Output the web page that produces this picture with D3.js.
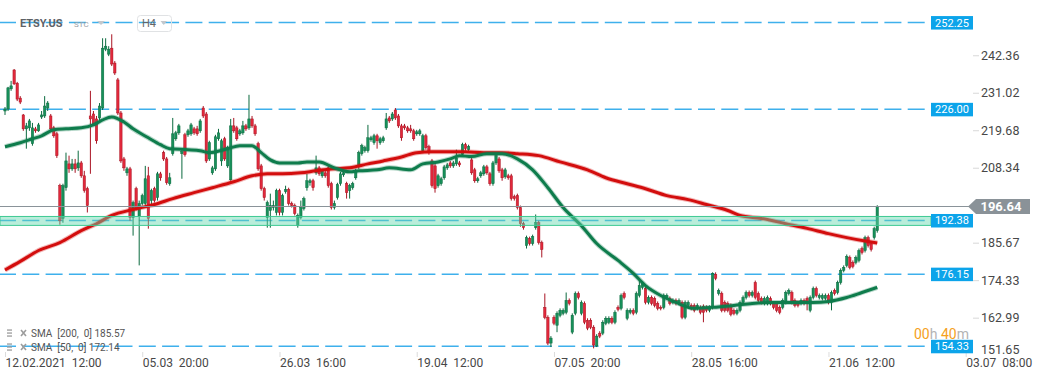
<!DOCTYPE html>
<html>
<head>
<meta charset="utf-8">
<script src="https://cdn.jsdelivr.net/npm/d3@7"></script>
<style>
  body { margin: 0; background: #fff; overflow: hidden; }
  svg { display: block; font-family: Roboto, "Noto Sans", sans-serif; }
</style>
</head>
<body>
<div id="chart"></div>
<script>
// H4 candles, [open, high, low, close]
const ohlc = [
  [225.5,226.7,224.3,226.1],[226.1,232.8,225.5,232.5],[232.2,234.6,231.6,233.1],[237.9,238.2,233.4,233.7],
  [233.9,234.3,228.5,229.1],[229.4,230.0,227.6,228.2],[224.3,224.6,219.5,220.1],[220.1,221.9,214.1,221.0],
  [220.4,223.1,219.5,222.5],[215.6,221.9,215.0,220.4],[220.1,220.7,218.9,219.5],[219.5,221.9,219.2,221.3],
  [223.7,225.5,223.1,224.3],[224.0,230.0,223.4,227.0],[226.4,228.5,225.5,227.9],[224.0,224.6,219.5,220.1],
  [220.4,221.0,217.4,218.0],[218.6,219.2,211.3,212.0],[202.9,203.5,191.1,192.3],[193.0,203.5,191.7,202.9],
  [202.3,212.9,201.4,210.4],[209.5,212.0,206.8,208.0],[208.0,211.0,207.4,209.5],[209.5,211.0,206.8,208.0],
  [208.3,213.5,207.4,209.8],[209.8,210.4,205.3,205.9],[205.9,207.4,200.8,201.4],[202.0,202.6,194.8,196.9],
  [224.0,231.6,206.5,223.1],[224.6,225.5,221.0,221.6],[223.1,224.0,215.6,216.5],[223.4,227.9,222.5,227.0],
  [226.4,247.5,225.8,244.5],[244.2,247.5,243.6,245.1],[242.7,245.1,242.1,244.2],[244.5,248.7,239.1,239.7],
  [240.0,240.6,236.4,237.0],[234.9,235.5,224.3,224.9],[224.9,225.5,209.8,210.4],[211.0,211.6,207.4,208.3],
  [206.8,208.6,205.9,208.0],[208.0,208.6,192.3,193.3],[193.3,198.4,187.8,197.8],[202.0,202.6,195.4,196.0],
  [193.6,198.4,178.8,197.5],[197.5,200.5,196.9,199.9],[197.5,208.9,196.9,205.0],[205.9,208.6,189.9,193.0],
  [198.4,202.0,197.2,201.4],[202.0,202.6,197.8,198.4],[199.3,207.1,198.4,206.5],[206.5,207.1,204.4,205.3],
  [212.9,213.5,210.4,211.0],[211.0,211.6,203.2,203.8],[203.5,206.8,202.9,205.3],[212.6,223.4,212.0,218.6],
  [217.1,219.5,216.5,218.9],[218.9,221.6,218.3,221.0],[212.6,214.1,205.0,213.2],[218.3,218.9,211.7,212.3],
  [218.3,220.1,217.7,219.5],[218.6,221.9,218.0,221.3],[220.1,220.7,218.3,218.9],[220.1,221.0,218.0,218.6],
  [219.5,223.1,218.9,222.5],[226.4,227.0,223.4,224.0],[224.6,225.2,209.8,210.4],[211.0,216.5,210.4,215.9],
  [206.8,208.9,206.2,208.3],[208.0,218.3,207.4,217.7],[217.1,220.1,216.5,218.9],[210.4,217.1,208.9,216.5],
  [217.1,217.7,210.4,211.0],[208.9,215.0,208.3,214.4],[204.7,223.1,204.4,221.0],[221.0,223.4,218.9,219.5],
  [220.4,221.0,216.5,217.1],[218.6,220.1,218.0,219.5],[218.9,222.5,218.3,221.0],[221.0,221.6,219.5,220.1],
  [220.4,230.4,219.8,223.1],[223.1,224.0,220.4,221.0],[221.0,221.6,218.0,218.6],[215.6,216.2,207.4,208.0],
  [208.9,209.5,201.4,202.0],[202.0,202.6,198.4,199.3],[193.3,198.4,190.2,197.8],[195.4,200.5,190.2,196.9],
  [196.3,198.4,195.4,196.9],[194.8,202.0,193.9,201.4],[201.4,202.0,193.9,194.8],[194.8,200.5,193.9,199.9],
  [201.1,202.9,200.5,201.7],[201.7,202.3,196.9,197.5],[197.5,198.1,196.3,196.9],[196.9,197.5,193.9,194.5],
  [190.9,194.5,190.2,193.9],[193.3,198.4,192.7,196.3],[196.0,199.6,195.4,199.0],[202.3,206.5,201.4,204.4],
  [203.8,205.0,202.9,204.4],[204.4,205.0,201.4,202.3],[206.8,212.0,206.2,208.3],[208.3,208.9,205.9,206.5],
  [205.9,208.0,205.3,207.4],[206.8,207.4,205.3,205.9],[208.3,208.9,202.3,202.9],[203.5,204.1,195.7,196.3],
  [196.3,198.4,195.7,197.5],[199.3,203.8,198.7,203.2],[203.5,207.1,202.9,206.5],[206.2,207.4,205.6,206.8],
  [203.5,204.1,199.0,200.8],[201.4,203.5,199.0,202.9],[202.3,204.1,201.7,203.5],[205.3,208.0,204.7,207.4],
  [208.9,213.5,208.0,212.9],[212.6,215.6,212.0,215.0],[213.5,215.0,212.9,214.4],[213.5,221.3,212.9,217.4],
  [216.8,218.0,216.2,217.4],[215.9,218.6,215.3,218.0],[218.0,218.6,214.1,216.5],[215.9,217.7,215.3,217.1],
  [216.5,218.0,215.9,217.4],[220.4,224.9,219.8,223.1],[223.4,224.0,221.9,222.5],[223.1,225.2,222.5,224.6],
  [225.8,226.4,222.8,223.4],[224.0,224.6,220.4,221.0],[221.0,221.6,216.5,217.4],[221.0,221.6,219.8,220.4],
  [220.4,221.0,218.9,219.5],[220.1,221.3,218.9,219.5],[219.5,220.1,216.5,217.1],[218.6,219.8,218.0,219.2],
  [218.6,220.1,218.0,219.5],[213.5,218.6,212.9,218.0],[218.0,218.6,213.8,214.4],[214.7,215.3,212.3,212.9],
  [210.4,211.0,202.3,202.9],[208.9,209.5,200.8,202.0],[202.9,206.5,202.3,205.9],[203.5,205.6,202.9,205.0],
  [205.3,209.2,204.7,208.6],[208.3,209.8,207.7,209.2],[209.8,210.4,208.3,208.9],[208.9,210.4,208.3,209.8],
  [209.5,213.8,208.9,211.3],[209.8,210.4,208.6,209.2],[212.3,215.9,211.7,215.3],[215.3,215.9,213.5,214.1],
  [213.8,215.3,213.2,214.7],[210.7,211.3,206.2,206.8],[207.7,208.3,203.8,204.4],[204.4,205.6,203.8,205.0],
  [205.9,207.4,205.3,206.8],[206.5,209.2,205.9,208.6],[208.6,209.2,206.2,206.8],[206.5,207.1,202.9,203.5],
  [203.5,210.4,202.9,209.8],[209.8,212.6,209.2,212.0],[211.0,211.6,206.8,207.4],[207.7,208.3,204.4,205.3],
  [205.6,208.3,205.0,207.7],[205.9,206.5,204.7,205.3],[205.9,206.5,198.4,199.0],[199.6,200.2,198.4,199.0],
  [199.9,200.5,195.7,196.3],[196.3,196.9,190.5,191.4],[191.4,192.0,189.6,190.2],[184.8,187.8,183.9,187.2],
  [186.9,187.5,184.8,185.4],[185.4,188.1,184.8,187.5],[190.2,194.2,189.6,191.7],[191.7,192.3,185.1,185.7],
  [185.7,186.3,181.2,183.6],[166.1,170.3,162.5,163.1],[163.1,163.7,154.7,155.3],[155.3,157.4,154.1,156.8],
  [163.1,163.7,160.7,161.3],[160.7,164.9,158.6,164.3],[163.7,165.8,163.1,165.2],[164.3,165.8,163.7,165.2],
  [164.6,170.6,164.0,168.2],[168.2,168.8,166.7,167.3],[158.6,164.3,158.0,163.7],[164.3,170.9,163.7,170.3],
  [170.3,170.9,168.5,169.1],[164.3,168.2,163.7,167.6],[167.3,167.9,161.0,161.6],[162.2,162.8,159.2,159.8],
  [162.2,162.8,159.5,160.1],[160.1,160.7,153.7,154.7],[154.4,158.0,154.1,157.4],[158.3,158.9,156.8,157.4],
  [158.3,162.2,157.7,161.6],[161.3,163.4,160.7,162.8],[161.6,163.4,161.0,162.8],[162.8,163.4,161.0,161.6],
  [161.6,165.2,161.0,164.6],[166.1,166.7,164.9,165.5],[165.8,170.3,165.2,169.7],[170.3,170.9,168.5,169.1],
  [162.8,165.8,162.2,165.2],[164.6,165.8,164.0,165.2],[165.2,165.8,163.7,164.3],[164.6,170.9,164.0,170.3],
  [169.7,174.9,169.1,172.7],[172.1,173.9,171.5,173.3],[171.8,172.4,167.0,167.6],[167.6,169.7,167.0,169.1],
  [169.1,169.7,166.7,167.3],[168.8,169.4,166.1,166.7],[167.3,167.9,165.2,165.8],[166.1,166.7,165.2,165.8],
  [166.1,170.3,165.5,169.7],[169.1,170.3,168.5,169.7],[168.8,169.4,166.7,167.3],[167.6,168.8,167.0,168.2],
  [168.2,168.8,166.7,167.3],[167.3,168.8,166.7,168.2],[167.6,168.2,162.5,163.1],[163.1,168.2,162.5,167.6],
  [166.7,168.2,166.1,167.6],[166.7,167.3,165.2,165.8],[166.7,167.3,164.6,165.2],[165.8,167.3,165.2,166.7],
  [166.1,166.7,164.0,164.6],[166.4,167.0,161.6,164.6],[166.1,166.7,164.6,165.2],[165.2,166.7,164.6,166.1],
  [166.1,176.7,165.5,176.4],[176.1,176.7,174.3,174.9],[170.3,171.8,169.7,171.2],[170.3,170.9,164.6,165.2],
  [167.6,168.2,164.6,165.2],[167.3,167.9,164.6,165.2],[166.7,167.3,163.4,164.0],[165.2,165.8,163.7,164.3],
  [164.3,165.8,163.7,165.2],[165.2,168.2,164.6,167.6],[167.6,169.7,167.0,169.1],[169.1,171.2,168.5,170.6],
  [170.6,171.2,169.1,169.7],[169.7,171.2,169.1,170.6],[173.6,174.2,168.5,169.1],[170.3,170.9,167.6,168.2],
  [168.8,169.4,167.0,167.6],[167.3,169.4,166.7,168.8],[167.3,169.7,166.7,169.1],[168.8,169.4,166.7,167.3],
  [167.3,167.9,165.5,166.1],[167.3,167.9,164.6,165.2],[166.1,166.7,164.0,164.6],[166.1,168.8,165.5,168.2],
  [167.6,171.2,167.0,170.6],[170.3,171.8,169.7,171.2],[170.6,171.2,167.0,167.6],[168.2,168.8,166.1,166.7],
  [167.6,168.2,166.1,166.7],[167.3,168.8,166.7,168.2],[168.2,168.8,166.7,167.3],[168.8,169.4,165.2,167.3],
  [165.2,169.7,164.6,169.1],[169.1,172.4,168.5,171.8],[171.8,172.4,169.1,169.7],[169.1,170.3,168.5,169.7],
  [168.8,170.3,168.2,169.7],[168.8,170.3,168.2,169.7],[169.7,170.3,167.0,167.6],[167.6,171.2,165.2,170.6],
  [171.2,171.8,169.7,170.3],[170.6,174.2,170.0,173.6],[173.6,177.9,173.0,177.3],[177.3,178.8,176.7,178.2],
  [178.8,182.1,178.2,181.5],[181.2,181.8,177.6,178.2],[179.7,180.3,177.9,178.5],[179.7,181.8,179.1,181.2],
  [180.3,183.9,179.7,183.3],[183.9,184.5,182.1,182.7],[183.3,187.8,182.7,187.2],[187.2,187.8,184.2,184.8],
  [185.4,186.0,183.0,183.6],[187.2,190.5,186.6,189.9],[189.3,197.0,188.7,196.64]
];

// moving averages, [candle index, value]
const sma200 = [
  [0,177.4],[5,180.0],[11,183.3],[18,185.7],[25,189.3],[30,191.4],[35,193.9],[42,195.7],[49,197.2],
  [55,199.0],[62,200.8],[68,202.3],[75,204.1],[81,205.9],[86,206.5],[91,206.5],[97,206.8],[102,207.4],
  [108,208.0],[113,208.3],[119,209.5],[124,210.4],[130,211.6],[135,212.9],[140,213.2],[146,213.2],
  [151,213.2],[157,212.9],[162,212.9],[168,212.6],[175,212.0],[182,210.1],[191,207.7],[197,205.3],
  [204,203.5],[210,202.0],[217,199.9],[224,198.7],[230,197.2],[237,195.4],[241,193.9],[248,193.0],
  [256,191.4],[263,190.0],[270,188.4],[276,187.2],[283,186.0],[286,185.57]
];
const sma50 = [
  [0,214.7],[5,215.9],[9,217.1],[12,218.0],[16,219.8],[20,220.1],[25,220.4],[29,221.3],[32,222.8],
  [35,223.7],[39,222.2],[42,220.1],[47,217.4],[51,215.3],[54,214.1],[60,213.8],[64,213.5],[67,212.9],
  [73,214.1],[77,215.0],[81,215.0],[84,212.9],[87,210.7],[90,209.8],[96,209.8],[99,210.1],[103,210.1],
  [108,208.3],[113,207.1],[116,207.4],[122,207.7],[126,208.3],[133,207.7],[137,209.5],[142,210.1],
  [146,211.0],[149,212.0],[153,211.7],[158,212.6],[163,212.6],[168,211.0],[173,207.7],[178,202.3],
  [183,196.3],[189,190.8],[194,185.4],[201,180.3],[206,176.4],[210,172.7],[215,169.7],[220,167.6],
  [226,165.8],[232,166.1],[239,166.7],[245,167.3],[252,167.6],[258,167.6],[265,167.6],[270,167.9],
  [276,169.1],[281,170.6],[286,172.14]
];

const levels = [252.25, 226.00, 192.38, 176.15, 154.33];
const zone = [190.9, 193.6];
const lastPrice = 196.64;
const priceTicks = [242.36, 231.02, 219.68, 208.34, 185.67, 174.33, 162.99, 151.65];
const dateIdx = [0, 45, 90, 135, 180, 225, 270, 315];
const dateLabels = ["12.02.2021  12:00", "05.03  20:00", "26.03  16:00", "19.04  12:00",
                    "07.05  20:00", "28.05  16:00", "21.06  12:00", "03.07  08:00"];

const width = 1041, height = 380;
const upFill = "#17905a", upLine = "#0b6a3f", downFill = "#e2283b", downLine = "#a91423";

const svg = d3.select("#chart").append("svg")
  .attr("width", width)
  .attr("height", height);

const x = d3.scaleLinear().domain([0, 315]).range([5, 965.7]);
const y = d3.scaleLinear().domain([151.65, 252.25]).range([355.15, 22.56]);

// dashed levels
svg.append("g").selectAll("line")
  .data(levels)
  .join("line")
  .attr("x1", 0).attr("x2", 931)
  .attr("y1", d => y(d)).attr("y2", d => y(d))
  .attr("stroke", "#3eb0ec")
  .attr("stroke-width", 1.5)
  .attr("stroke-dasharray", "17,6.3")
  .attr("stroke-dashoffset", 1);

// candles
const candle = svg.append("g").selectAll("g")
  .data(ohlc)
  .join("g");

candle.append("line")
  .attr("x1", (d, i) => x(i)).attr("x2", (d, i) => x(i))
  .attr("y1", d => y(d[1])).attr("y2", d => y(d[2]))
  .attr("stroke", d => d[3] >= d[0] ? upLine : downLine)
  .attr("stroke-width", 1);

candle.append("rect")
  .attr("x", (d, i) => x(i) - 1.2)
  .attr("width", 2.4)
  .attr("y", d => y(Math.max(d[0], d[3])))
  .attr("height", d => Math.max(1, Math.abs(y(d[0]) - y(d[3]))))
  .attr("fill", d => d[3] >= d[0] ? upFill : downFill)
  .attr("stroke", d => d[3] >= d[0] ? upLine : downLine)
  .attr("stroke-width", 0.5);

// moving averages
const line = d3.line()
  .x(d => x(d[0]))
  .y(d => y(d[1]))
  .curve(d3.curveMonotoneX);

[[sma200, "#d30d0d"], [sma50, "#0e7c4c"]].forEach(([data, color]) => {
  svg.append("path")
    .datum(data)
    .attr("fill", "none")
    .attr("stroke", color)
    .attr("stroke-opacity", 0.3)
    .attr("stroke-width", 5)
    .attr("d", line);
  svg.append("path")
    .datum(data)
    .attr("fill", "none")
    .attr("stroke", color)
    .attr("stroke-width", 3)
    .attr("d", line);
});

// support zone
svg.append("rect")
  .attr("x", 0).attr("width", 931)
  .attr("y", y(zone[1]))
  .attr("height", y(zone[0]) - y(zone[1]))
  .attr("fill", "#63d6ad")
  .attr("fill-opacity", 0.45)
  .attr("stroke", "#3ec992")
  .attr("stroke-width", 1);

// last price line
const yLast = Math.round(y(lastPrice)) + 0.5;
svg.append("line")
  .attr("x1", 0).attr("x2", 969)
  .attr("y1", yLast).attr("y2", yLast)
  .attr("stroke", "#8a9399")
  .attr("stroke-width", 1);

// right axis
const yAxis = svg.append("g")
  .attr("transform", "translate(973,0)")
  .call(d3.axisRight(y).tickValues(priceTicks).tickSize(6).tickPadding(2).tickFormat(d3.format(".2f")));
yAxis.select(".domain").remove();
yAxis.selectAll(".tick line").attr("stroke", "#d8d8d8");
yAxis.selectAll(".tick text")
  .attr("fill", "#474747")
  .style("font-size", "12.5px")
  .style("font-family", "Roboto");
yAxis.selectAll(".tick").filter(d => d === 151.65).each(function () {
  d3.select(this).select("line").remove();
  d3.select(this).select("text").attr("y", -6);
});

// bottom axis
const xAxis = svg.append("g")
  .attr("transform", "translate(0,352)")
  .call(d3.axisBottom(x).tickValues(dateIdx).tickSize(5).tickPadding(1)
    .tickFormat((d, i) => dateLabels[i]));
xAxis.select(".domain").remove();
xAxis.selectAll(".tick line").attr("stroke", "#dcdcdc");
xAxis.selectAll(".tick text")
  .attr("text-anchor", "start")
  .attr("x", 0)
  .attr("fill", "#474747")
  .style("white-space", "pre")
  .style("font-size", "12px")
  .style("font-family", "Roboto");

// level labels
const tags = svg.append("g").selectAll("g")
  .data(levels)
  .join("g")
  .attr("transform", d => `translate(931,${y(d)})`);
tags.append("rect")
  .attr("y", -6.5).attr("width", 42).attr("height", 13.5)
  .attr("fill", "#0ca4ea");
tags.append("text")
  .attr("x", 21).attr("y", 4)
  .attr("text-anchor", "middle")
  .attr("fill", "#fff")
  .style("font-size", "11px")
  .text(d => d.toFixed(2));

// last price tag
const yl = y(lastPrice);
svg.append("path")
  .attr("d", `M968,${yl} L976,${yl - 7.5} L1030,${yl - 7.5} L1030,${yl + 7.5} L976,${yl + 7.5} Z`)
  .attr("fill", "#8a9298");
svg.append("text")
  .attr("x", 1001).attr("y", yl + 4.5)
  .attr("text-anchor", "middle")
  .attr("fill", "#fff")
  .style("font-size", "13px")
  .style("font-weight", "bold")
  .text(lastPrice.toFixed(2));

// header
svg.append("text").attr("x", 20).attr("y", 27)
  .attr("fill", "#5c6166").style("font-size", "11px").style("font-weight", "bold")
  .text("ETSY.US");
svg.append("text").attr("x", 74).attr("y", 27)
  .attr("fill", "#9aa0a6").style("font-size", "8px")
  .text("STC");
svg.append("path").attr("d", "M97,21 L105,21 L101,25 Z").attr("fill", "#c4c8cc");
svg.append("rect").attr("x", 137.5).attr("y", 15.5).attr("width", 34).attr("height", 16).attr("rx", 3)
  .attr("fill", "none").attr("stroke", "#e0e2e4");
svg.append("text").attr("x", 142).attr("y", 27)
  .attr("fill", "#666").style("font-size", "11px")
  .text("H4");
svg.append("path").attr("d", "M160.5,21 L167,21 L163.75,25 Z").attr("fill", "#c4c8cc");

// indicator legend
const legend = [["SMA  [200,  0] ", sma200], ["SMA  [50,  0] ", sma50]];
legend.forEach(([label, data], i) => {
  const ly = 333 + i * 14;
  const g = svg.append("g").attr("transform", `translate(0,${ly})`);
  [-3, 0, 3].forEach(dy => g.append("rect").attr("x", 7).attr("y", dy - 0.6).attr("width", 5).attr("height", 1.3).attr("fill", "#9c9c9c"));
  g.append("path").attr("d", "M21,-3 L26,3 M26,-3 L21,3").attr("stroke", "#9c9c9c").attr("stroke-width", 1.6);
  g.append("text").attr("x", 31).attr("y", 3.5)
    .attr("fill", "#555").style("font-size", "10px").style("white-space", "pre")
    .text(label + data[data.length - 1][1].toFixed(2));
});

// countdown
const timer = svg.append("text").attr("x", 914).attr("y", 338.5).style("font-size", "14px");
[["00", "#f5a11c"], ["h ", "#b3b3b3"], ["40", "#f5a11c"], ["m", "#b3b3b3"]].forEach(([t, c]) =>
  timer.append("tspan").attr("fill", c).style("white-space", "pre").text(t));
</script>
</body>
</html>
